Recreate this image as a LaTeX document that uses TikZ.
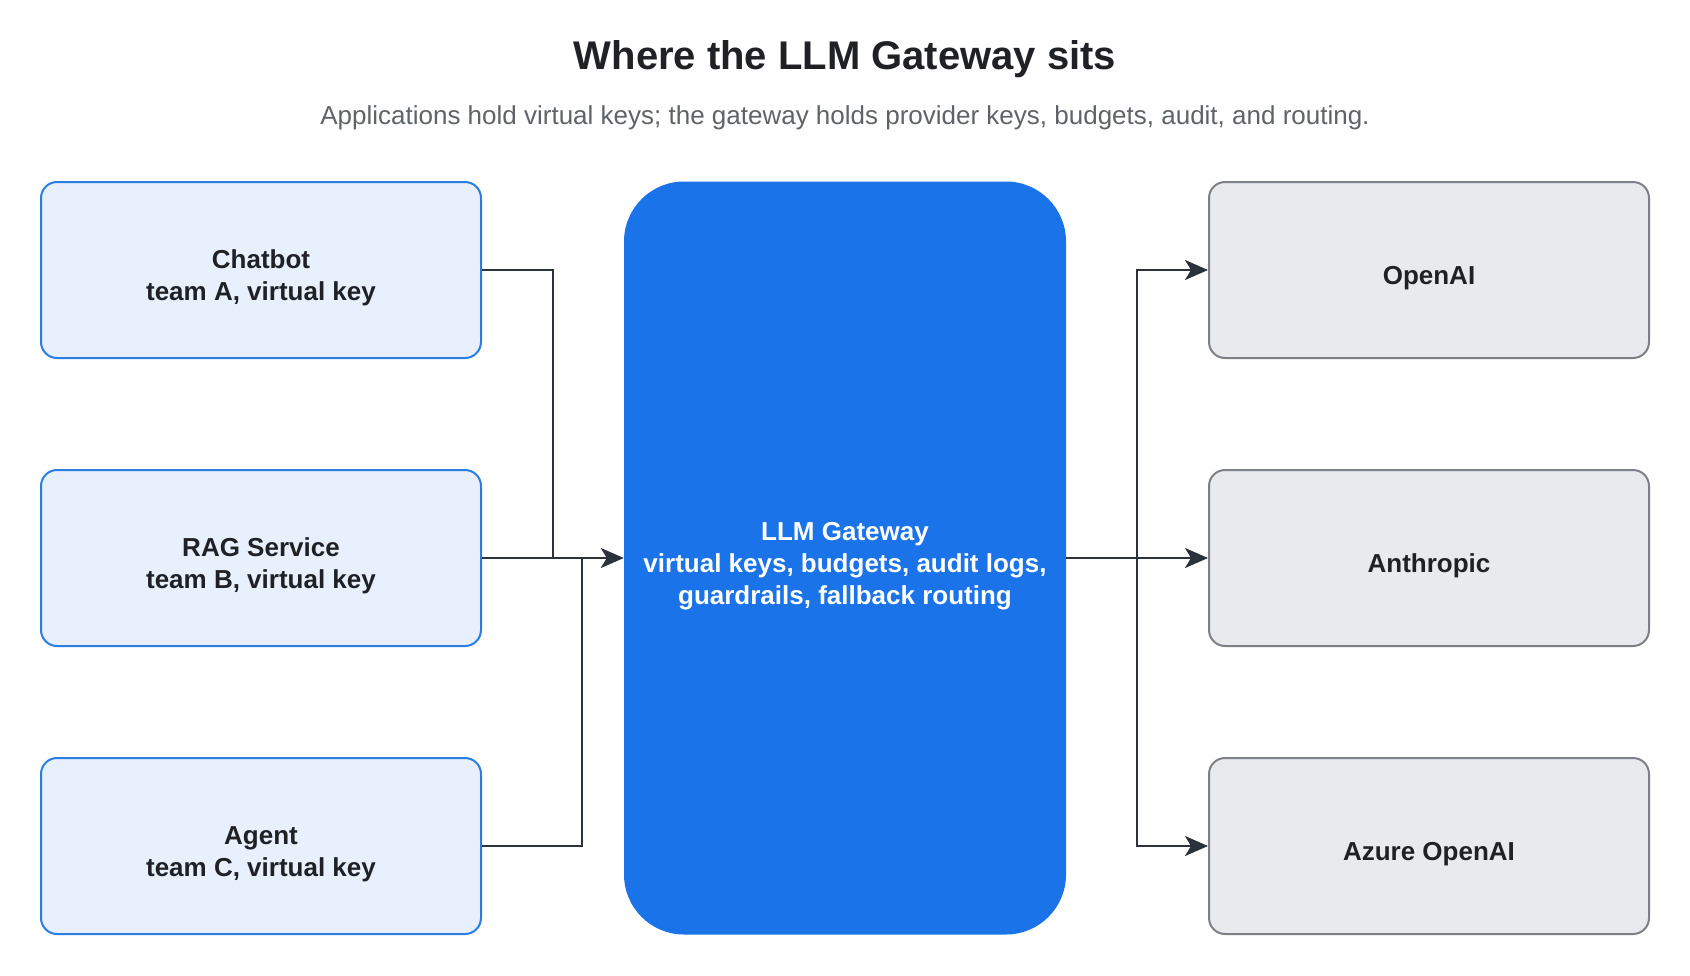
\documentclass[tikz,border=0pt]{standalone}
\usepackage{fontspec}
\setmainfont{Liberation Sans}
\usetikzlibrary{arrows.meta}

\definecolor{appfill}{HTML}{E8F0FE}
\definecolor{appline}{HTML}{2B7DE3}
\definecolor{gwfill}{HTML}{1A73E8}
\definecolor{provfill}{HTML}{E8EAED}
\definecolor{provline}{HTML}{7D8187}
\definecolor{inkdark}{HTML}{202124}
\definecolor{inkgray}{HTML}{5F6368}
\definecolor{wire}{HTML}{2B323B}

\tikzset{
  appbox/.style={draw=appline, fill=appfill, line width=2, rounded corners=16,
    minimum width=440, minimum height=176, align=center, text=inkdark,
    text height=66pt, font=\fontsize{26}{31.5}\selectfont\bfseries},
  gwbox/.style={fill=gwfill, rounded corners=60, minimum width=442,
    minimum height=753, align=center, text=white,
    text height=99pt, font=\fontsize{26}{32}\selectfont\bfseries},
  provbox/.style={draw=provline, fill=provfill, line width=2, rounded corners=16,
    minimum width=440, minimum height=176, align=center, text=inkdark,
    text height=34pt, font=\fontsize{26}{31.5}\selectfont\bfseries},
  wireline/.style={draw=wire, line width=2.6},
  wirearrow/.style={wireline, -{Stealth[length=23, width=20, inset=6]}}
}

\begin{document}
\begin{tikzpicture}[x=1pt,y=-1pt]
\useasboundingbox (0,0) rectangle (1690,975);

% ============================================
% Title
% ============================================
        \node (title) at (845,59) {\fontsize{40}{48}\selectfont\bfseries\color{inkdark}Where the LLM Gateway sits};
        \node (subtitle) at (845,118) {\fontsize{26}{31}\selectfont\color{inkgray}Applications hold virtual keys; the gateway holds provider keys, budgets, audit, and routing.};

% ============================================
% LEFT SIDE – APPLICATIONS
% ============================================
        \node[appbox] (chatbot) at (261,270) {Chatbot\\team A, virtual key};
        \node[appbox] (rag) at (261,558) {RAG Service\\team B, virtual key};
        \node[appbox] (agent) at (261,846) {Agent\\team C, virtual key};

% ============================================
% CENTER – GATEWAY
% ============================================
        \node[gwbox] (gateway) at (845,558) {LLM Gateway\\virtual keys, budgets, audit logs,\\guardrails, fallback routing};

% ============================================
% RIGHT SIDE – PROVIDERS
% ============================================
        \node[provbox] (openai) at (1429,270) {OpenAI};
        \node[provbox] (anthropic) at (1429,558) {Anthropic};
        \node[provbox] (azure) at (1429,846) {Azure OpenAI};

% ============================================
% Connectors
% ============================================
        % Junctions
        \coordinate (joinA) at (553,558);
        \coordinate (joinC) at (582,558);
        \coordinate (fanout) at (1137,558);
        % Applications into gateway
        \draw[wireline] (chatbot.east) -| (joinA);
        \draw[wireline] (agent.east) -| (joinC);
        \draw[wirearrow] (rag.east) -- (gateway.west);
        % Gateway out to providers
        \draw[wirearrow] (gateway.east) -- (anthropic.west);
        \draw[wirearrow] (fanout) |- (openai.west);
        \draw[wirearrow] (fanout) |- (azure.west);
\end{tikzpicture}
\end{document}
